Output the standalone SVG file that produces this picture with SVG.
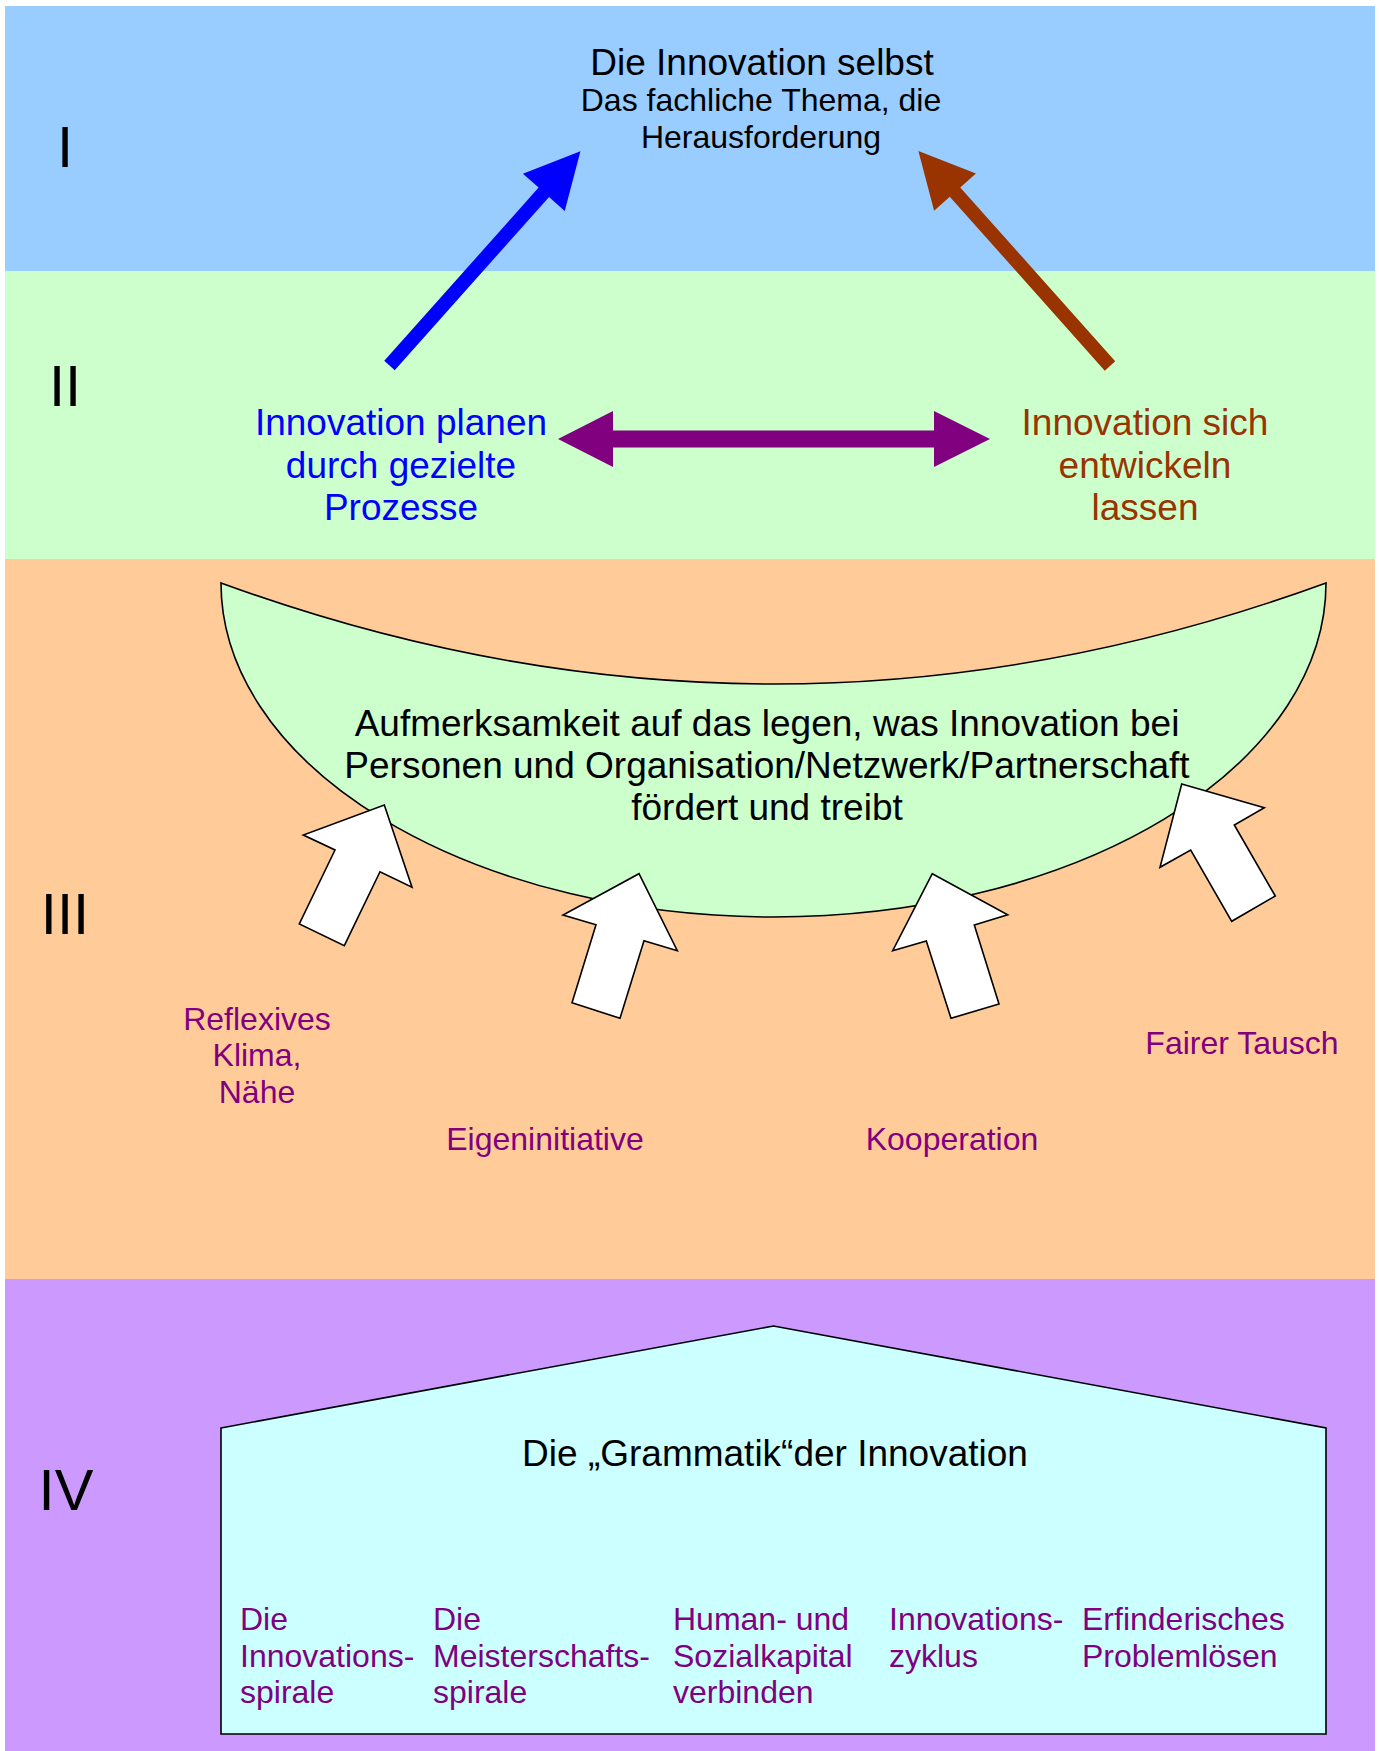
<svg xmlns="http://www.w3.org/2000/svg" width="1379" height="1751" viewBox="0 0 1379 1751">
<style>
text{font-family:"Liberation Sans",Arial,sans-serif}
.big{font-size:37px}
.sub{font-size:32px}
.lbl{font-size:32px;fill:#800080}
.num{font-size:58px;fill:#000}
.shape{stroke:#000;stroke-width:1.6}
.warrow{fill:#fff;stroke:#000;stroke-width:1.6;stroke-linejoin:miter}
</style>
<rect width="1379" height="1751" fill="#fff"/>
<g id="bands">
<rect x="5" y="6" width="1370" height="265" fill="#99CCFF"/>
<rect x="5" y="271" width="1370" height="288" fill="#CCFFCC"/>
<rect x="5" y="559" width="1370" height="720" fill="#FFCC99"/>
<rect x="5" y="1279" width="1370" height="472" fill="#CC99FF"/>
</g>
<g id="levels" class="num" text-anchor="middle">
<text x="65" y="167">I</text>
<text x="65" y="406">II</text>
<text x="65" y="934">III</text>
<text x="66" y="1510">IV</text>
</g>
<g id="node-innovation" text-anchor="middle">
<text class="big" x="762" y="75">Die Innovation selbst</text>
<text class="sub" x="761" y="111">Das fachliche Thema, die</text>
<text class="sub" x="761" y="148">Herausforderung</text>
</g>
<g id="node-planen" class="big" text-anchor="middle" fill="#0000FF">
<text x="401" y="435">Innovation planen</text>
<text x="401" y="478">durch gezielte</text>
<text x="401" y="520">Prozesse</text>
</g>
<g id="node-entwickeln" class="big" text-anchor="middle" fill="#993300">
<text x="1145" y="435">Innovation sich</text>
<text x="1145" y="478">entwickeln</text>
<text x="1145" y="520">lassen</text>
</g>
<g id="node-aufmerksamkeit">
<path class="shape" fill="#CCFFCC" d="M221,583 A552.5,334 0 0 0 1326,583 Q773.5,785 221,583 Z"/>
<g class="big" text-anchor="middle">
<text x="767" y="736">Aufmerksamkeit auf das legen, was Innovation bei</text>
<text x="767" y="778">Personen und Organisation/Netzwerk/Partnerschaft</text>
<text x="767" y="820">fördert und treibt</text>
</g>
</g>
<g id="node-reflexives" class="lbl" text-anchor="middle">
<text x="257" y="1030">Reflexives</text>
<text x="257" y="1066">Klima,</text>
<text x="257" y="1103">Nähe</text>
</g>
<g id="node-eigeninitiative" class="lbl" text-anchor="middle">
<text x="545" y="1150">Eigeninitiative</text>
</g>
<g id="node-kooperation" class="lbl" text-anchor="middle">
<text x="952" y="1150">Kooperation</text>
</g>
<g id="node-fairer-tausch" class="lbl" text-anchor="middle">
<text x="1242" y="1054">Fairer Tausch</text>
</g>
<g id="node-grammatik">
<path class="shape" fill="#CCFFFF" stroke-width="2" d="M221,1428 L773.5,1326 L1326,1428 L1326,1734 L221,1734 Z"/>
<text class="big" x="775" y="1466" text-anchor="middle">Die „Grammatik“der Innovation</text>
<g class="lbl">
<text x="240" y="1630">Die<tspan x="240" y="1667">Innovations-</tspan><tspan x="240" y="1703">spirale</tspan></text>
<text x="433" y="1630">Die<tspan x="433" y="1667">Meisterschafts-</tspan><tspan x="433" y="1703">spirale</tspan></text>
<text x="673" y="1630">Human- und<tspan x="673" y="1667">Sozialkapital</tspan><tspan x="673" y="1703">verbinden</tspan></text>
<text x="889" y="1630">Innovations-<tspan x="889" y="1667">zyklus</tspan></text>
<text x="1082" y="1630">Erfinderisches<tspan x="1082" y="1667">Problemlösen</tspan></text>
</g>
</g>
<g id="connectors">
<polygon fill="#0000FF" transform="translate(389.5,365.5) rotate(-48.3)" points="0,-7 232,-7 232,-28 287,0 232,28 232,7 0,7"/>
<polygon fill="#993300" transform="translate(1110,366) rotate(-131.7)" points="0,-7 233,-7 233,-28 288,0 233,28 233,7 0,7"/>
<polygon fill="#800080" points="558,439 613,411 613,430.5 934,430.5 934,411 990,439 934,467 934,447.5 613,447.5 613,467"/>
<polygon class="warrow" points="384.3,805 412,887.3 380,871.7 344.3,945.7 299.3,924 335,850 303.3,835"/>
<polygon class="warrow" points="639,873.7 677.3,950.7 644,940.7 620,1018.3 572,1002.7 596,924.7 563,915"/>
<polygon class="warrow" points="932.3,873.7 1007.7,914.7 974.3,925 999,1004 951,1018.3 926.3,941 892.7,950.7"/>
<polygon class="warrow" points="1181.7,784 1264.3,807.7 1234.3,825 1275.3,896 1231.7,921.3 1190.7,850 1160,867.3"/>
</g>
</svg>
